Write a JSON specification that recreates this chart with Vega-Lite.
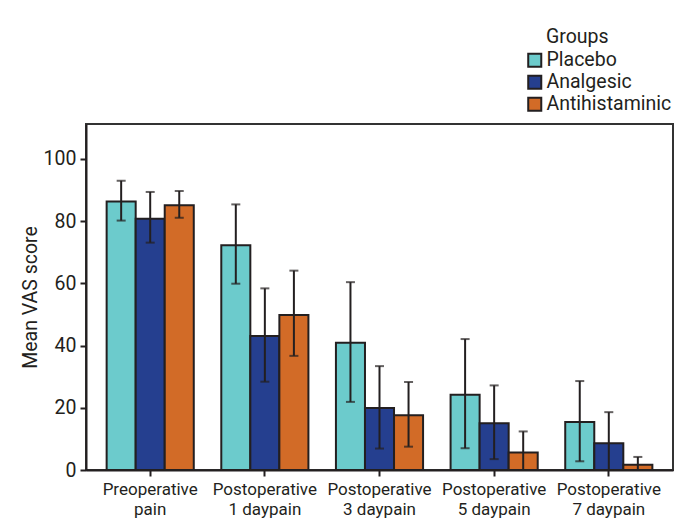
{
  "$schema": "https://vega.github.io/schema/vega-lite/v6.json",
  "width": 587,
  "height": 346,
  "autosize": {"type": "none"},
  "padding": {"left": 86, "top": 124, "right": 10, "bottom": 55},
  "background": "white",
  "config": {
    "font": "Roboto",
    "view": {"stroke": "#333333", "strokeWidth": 2},
    "axis": {
      "domainColor": "#231f20",
      "domainWidth": 2,
      "tickColor": "#231f20",
      "tickWidth": 2,
      "tickSize": 6,
      "labelColor": "#231f20",
      "titleColor": "#231f20",
      "labelFont": "Roboto",
      "titleFont": "Roboto",
      "labelFontSize": 17,
      "titleFontSize": 19.5,
      "titleFontWeight": "normal",
      "grid": false
    }
  },
  "data": {
    "values": [
      {"time": "Preoperative pain", "group": "Placebo", "mean": 86.3, "lower": 80.2, "upper": 93.0},
      {"time": "Preoperative pain", "group": "Analgesic", "mean": 80.8, "lower": 73.1, "upper": 89.4},
      {"time": "Preoperative pain", "group": "Antihistaminic", "mean": 85.1, "lower": 81.1, "upper": 89.7},
      {"time": "Postoperative 1 daypain", "group": "Placebo", "mean": 72.3, "lower": 59.9, "upper": 85.4},
      {"time": "Postoperative 1 daypain", "group": "Analgesic", "mean": 43.1, "lower": 28.4, "upper": 58.4},
      {"time": "Postoperative 1 daypain", "group": "Antihistaminic", "mean": 49.8, "lower": 36.7, "upper": 64.1},
      {"time": "Postoperative 3 daypain", "group": "Placebo", "mean": 40.9, "lower": 21.9, "upper": 60.4},
      {"time": "Postoperative 3 daypain", "group": "Analgesic", "mean": 19.9, "lower": 6.9, "upper": 33.4},
      {"time": "Postoperative 3 daypain", "group": "Antihistaminic", "mean": 17.6, "lower": 7.5, "upper": 28.3},
      {"time": "Postoperative 5 daypain", "group": "Placebo", "mean": 24.2, "lower": 7.0, "upper": 42.1},
      {"time": "Postoperative 5 daypain", "group": "Analgesic", "mean": 15.0, "lower": 3.5, "upper": 27.2},
      {"time": "Postoperative 5 daypain", "group": "Antihistaminic", "mean": 5.6, "lower": 0, "upper": 12.4},
      {"time": "Postoperative 7 daypain", "group": "Placebo", "mean": 15.4, "lower": 2.8, "upper": 28.6},
      {"time": "Postoperative 7 daypain", "group": "Analgesic", "mean": 8.6, "lower": 0, "upper": 18.6},
      {"time": "Postoperative 7 daypain", "group": "Antihistaminic", "mean": 1.7, "lower": 0, "upper": 4.2}
    ]
  },
  "encoding": {
    "x": {
      "field": "time",
      "type": "nominal",
      "sort": null,
      "title": null,
      "scale": {"paddingInner": 0.24, "paddingOuter": 0.18},
      "axis": {
        "labelAngle": 0,
        "labelPadding": 5,
        "labelLineHeight": 20,
        "labelExpr": "[slice(datum.label, 0, indexof(datum.label, ' ')), slice(datum.label, indexof(datum.label, ' ') + 1)]"
      }
    },
    "xOffset": {
      "field": "group",
      "type": "nominal",
      "sort": ["Placebo", "Analgesic", "Antihistaminic"],
      "scale": {"paddingInner": 0, "paddingOuter": 0}
    }
  },
  "layer": [
    {
      "mark": {"type": "bar", "stroke": "#231f20", "strokeWidth": 2},
      "encoding": {
        "y": {
          "field": "mean",
          "type": "quantitative",
          "title": "Mean VAS score",
          "scale": {"domain": [0, 111.25], "nice": false},
          "axis": {"values": [0, 20, 40, 60, 80, 100], "labelPadding": 4, "labelFontSize": 19.5, "titlePadding": 3}
        },
        "color": {
          "field": "group",
          "type": "nominal",
          "sort": ["Placebo", "Analgesic", "Antihistaminic"],
          "scale": {
            "domain": ["Placebo", "Analgesic", "Antihistaminic"],
            "range": ["#6ccbcc", "#253f8f", "#d26b27"]
          },
          "legend": {
            "title": "Groups",
            "orient": "none",
            "legendX": 460,
            "legendY": -96,
            "symbolType": "square",
            "symbolSize": 170,
            "symbolOffset": -21,
            "symbolStrokeColor": "#231f20",
            "symbolStrokeWidth": 2,
            "symbolOpacity": 1,
            "labelFontSize": 19.5,
            "titleFontSize": 19.5,
            "titleFontWeight": "normal",
            "labelColor": "#231f20",
            "titleColor": "#231f20",
            "labelOffset": 2,
            "rowPadding": 0,
            "titlePadding": 3
          }
        }
      }
    },
    {
      "mark": {"type": "rule", "color": "#231f20", "strokeWidth": 2},
      "encoding": {
        "y": {"field": "lower", "type": "quantitative"},
        "y2": {"field": "upper"}
      }
    },
    {
      "mark": {"type": "tick", "color": "#231f20", "thickness": 2, "size": 9, "orient": "horizontal"},
      "encoding": {
        "y": {"field": "upper", "type": "quantitative"}
      }
    },
    {
      "mark": {"type": "tick", "color": "#231f20", "thickness": 2, "size": 9, "orient": "horizontal"},
      "encoding": {
        "y": {"field": "lower", "type": "quantitative"}
      }
    }
  ]
}
